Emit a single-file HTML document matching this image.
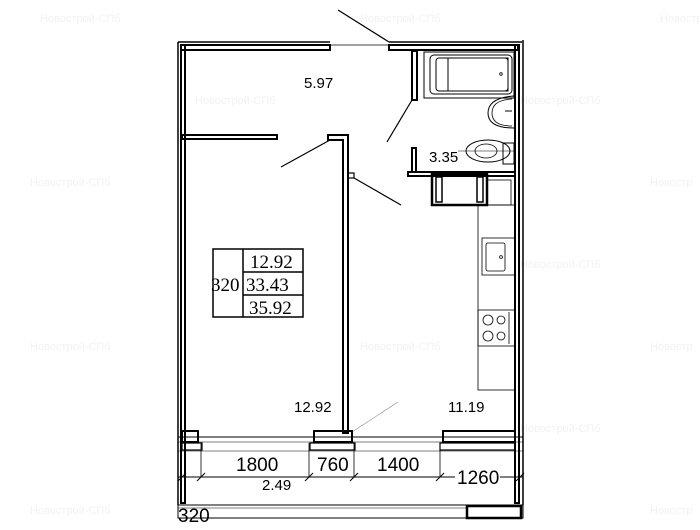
<!DOCTYPE html>
<html><head><meta charset="utf-8"><style>
html,body{margin:0;padding:0;background:#fff;width:700px;height:530px;overflow:hidden}
svg{display:block}
.s{font-family:"Liberation Sans",sans-serif}
.sf{font-family:"Liberation Serif",serif}
.wm{fill:#f2f2f2;font-size:11px;font-family:"Liberation Sans","Noto Sans CJK SC",sans-serif}
</style></head><body>
<svg width="700" height="530" viewBox="0 0 700 530" xmlns="http://www.w3.org/2000/svg">
<g class="wm">
<text x="40" y="22">Новострой-СПб</text><text x="360" y="22">Новострой-СПб</text><text x="660" y="22">Новостр</text>
<text x="195" y="104">Новострой-СПб</text><text x="520" y="104">Новострой-СПб</text>
<text x="30" y="186">Новострой-СПб</text><text x="650" y="186">Новостр</text>
<text x="520" y="268">Новострой-СПб</text>
<text x="30" y="350">Новострой-СПб</text><text x="360" y="350">Новострой-СПб</text><text x="650" y="350">Новостр</text>
<text x="520" y="432">Новострой-СПб</text>
<text x="30" y="514">Новострой-СПб</text><text x="650" y="514">Новостр</text>
</g>
<g fill="none" stroke="#000">
<line x1="178" y1="42" x2="330" y2="42" stroke-width="1.5"/>
<line x1="389" y1="42" x2="522" y2="42" stroke-width="1.5"/>
<line x1="178" y1="42" x2="178" y2="505" stroke-width="1.5"/>
<line x1="523" y1="40" x2="523" y2="505" stroke-width="1.5"/>
<rect x="181" y="45" width="149" height="5" stroke-width="2"/>
<rect x="389" y="45" width="129" height="5" stroke-width="2"/>
<rect x="181" y="45" width="4" height="458" stroke-width="2"/>
<rect x="515" y="45" width="4" height="458" stroke-width="2"/>
<line x1="330" y1="45" x2="389" y2="45" stroke-width="0.8"/>
<line x1="338" y1="10" x2="389" y2="42" stroke-width="1.2"/>
<rect x="412" y="51" width="5" height="49" stroke-width="2"/>
<line x1="387" y1="142" x2="412" y2="100" stroke-width="1.2"/>
<rect x="412" y="148" width="4" height="24" stroke-width="2"/>
<rect x="408" y="172" width="107" height="4" stroke-width="2"/>
<rect x="424" y="52" width="90" height="46" stroke-width="1"/>
<rect x="430" y="55" width="82" height="39" rx="4" stroke-width="1"/>
<rect x="436" y="58" width="72" height="33" rx="3" stroke-width="1"/>
<rect x="448" y="58" width="60" height="33" stroke-width="1"/>
<circle cx="501" cy="74" r="1.3" stroke-width="0.8"/>
<path d="M514 96 Q488 98 488 113 Q488 128 514 128" stroke-width="1"/>
<path d="M512 99 Q492 100 492 113 Q492 126 512 126" stroke-width="0.8"/>
<line x1="505" y1="111" x2="512" y2="111" stroke-width="1"/>
<ellipse cx="488" cy="151" rx="22" ry="11" stroke-width="1"/>
<ellipse cx="486" cy="151" rx="11" ry="7" stroke-width="0.8"/>
<rect x="503" y="143" width="11" height="21" stroke-width="1"/>
<line x1="458" y1="151" x2="514" y2="151" stroke-width="0.6"/>
<rect x="432" y="174" width="55" height="31" stroke-width="2.5"/>
<rect x="436" y="177" width="6" height="25" stroke-width="1.5"/>
<rect x="477" y="177" width="6" height="25" stroke-width="1.5"/>
<rect x="487" y="180" width="24" height="25" stroke-width="0.8"/>
<rect x="182" y="135" width="95" height="4" stroke-width="2"/>
<path d="M328 135 H348 V433 H343 V140 H328 Z" stroke-width="2"/>
<line x1="281" y1="167" x2="330" y2="140" stroke-width="1.2"/>
<rect x="348" y="173" width="6" height="5" stroke-width="1.2"/>
<line x1="354" y1="178" x2="401" y2="205" stroke-width="1.2"/>
<line x1="352" y1="432" x2="398" y2="402" stroke-width="0.6" stroke="#888"/>
<rect x="478" y="205" width="37" height="185" stroke-width="0.8"/>
<rect x="482" y="238" width="33" height="37" stroke-width="0.8"/>
<rect x="486" y="243" width="19" height="28" rx="2" stroke-width="0.8"/>
<circle cx="501" cy="257" r="1.4" stroke-width="0.8"/>
<rect x="478" y="310" width="37" height="36" stroke-width="0.8"/>
<circle cx="488" cy="320" r="5" stroke-width="0.8"/><circle cx="501" cy="320" r="4" stroke-width="0.8"/>
<circle cx="488" cy="336" r="5" stroke-width="0.8"/><circle cx="501" cy="336" r="4" stroke-width="0.8"/>
<line x1="509" y1="312" x2="509" y2="344" stroke-width="0.8"/>
<line x1="178" y1="437" x2="523" y2="437" stroke-width="1"/>
<line x1="178" y1="442" x2="523" y2="442" stroke-width="0.6"/>
<line x1="178" y1="451" x2="523" y2="451" stroke-width="0.6"/>
<rect x="182" y="431" width="16" height="11" stroke-width="2"/>
<rect x="182" y="443" width="20" height="7" stroke-width="1.2"/>
<rect x="314" y="431" width="38" height="11" stroke-width="2"/>
<rect x="310" y="443" width="45" height="7" stroke-width="1.2"/>
<rect x="443" y="431" width="72" height="11" stroke-width="2"/>
<rect x="440" y="443" width="75" height="7" stroke-width="1.2"/>
<line x1="178" y1="477" x2="455" y2="477" stroke-width="1"/>
<line x1="500" y1="477" x2="523" y2="477" stroke-width="1"/>
<line x1="201" y1="443" x2="201" y2="477" stroke-width="0.8"/>
<line x1="309" y1="443" x2="309" y2="477" stroke-width="0.8"/>
<line x1="354" y1="443" x2="354" y2="477" stroke-width="0.8"/>
<line x1="440" y1="443" x2="440" y2="477" stroke-width="0.8"/>
<g stroke-width="1">
<line x1="178" y1="481" x2="186" y2="473"/><line x1="197" y1="481" x2="205" y2="473"/>
<line x1="305" y1="481" x2="313" y2="473"/><line x1="350" y1="481" x2="358" y2="473"/>
<line x1="436" y1="481" x2="444" y2="473"/><line x1="516" y1="481" x2="524" y2="473"/>
</g>
<rect x="178" y="505" width="345" height="13" stroke-width="1"/>
<line x1="178" y1="508" x2="466" y2="508" stroke-width="0.6"/>
<rect x="467" y="506" width="54" height="12" stroke-width="2.5"/>
<rect x="213" y="249" width="90" height="68" stroke-width="1.5"/>
<line x1="243" y1="249" x2="243" y2="317" stroke-width="1.5"/>
<line x1="243" y1="272" x2="303" y2="272" stroke-width="1.5"/>
<line x1="243" y1="295" x2="303" y2="295" stroke-width="1.5"/>
</g>
<g class="s" font-size="15" fill="#000">
<text x="304" y="88">5.97</text>
<text x="429" y="162">3.35</text>
<text x="294" y="412">12.92</text>
<text x="448" y="412">11.19</text>
<text x="262" y="490">2.49</text>
</g>
<g class="s" font-size="19" fill="#000">
<text x="236" y="471">1800</text>
<text x="317" y="471">760</text>
<text x="377" y="471">1400</text>
<rect x="455" y="466" width="45" height="20" fill="#fff"/>
<text x="457" y="484">1260</text>
<text x="178" y="522">320</text>
</g>
<g class="sf" font-size="19" fill="#000">
<text x="250" y="268">12.92</text>
<text x="211" y="291">320</text>
<text x="246" y="291">33.43</text>
<text x="249" y="314">35.92</text>
</g>
</svg>
</body></html>
